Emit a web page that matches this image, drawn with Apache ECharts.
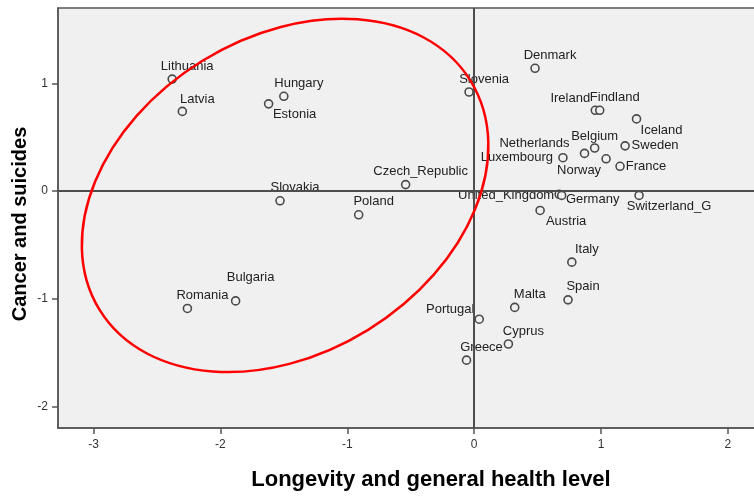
<!DOCTYPE html>
<html>
<head>
<meta charset="utf-8">
<script src="https://cdn.jsdelivr.net/npm/echarts@6/dist/echarts.min.js"></script>
<style>
  html, body { margin: 0; padding: 0; background: #fff; }
  #main { width: 754px; height: 497px; }
</style>
</head>
<body>
<div id="main"></div>
<script>
// countries and their two factor scores
var countries = [
  "Lithuania", "Latvia", "Hungary", "Estonia", "Denmark", "Slovenia",
  "Ireland", "Findland", "Iceland", "Belgium", "Sweden", "Luxembourg",
  "Netherlands", "Norway", "France", "United_Kingdom", "Germany", "Switzerland_G",
  "Austria", "Slovakia", "Czech_Republic", "Poland", "Bulgaria", "Romania",
  "Italy", "Spain", "Malta", "Portugal", "Cyprus", "Greece"
];
var longevity = [
  -2.38, -2.30, -1.50, -1.62, 0.48, -0.04,
  0.955, 0.99, 1.28, 0.95, 1.19, 0.70,
  0.87, 1.04, 1.15, 0.67, 0.69, 1.30,
  0.52, -1.53, -0.54, -0.91, -1.88, -2.26,
  0.77, 0.74, 0.32, 0.04, 0.27, -0.06
];
var cancer = [
  1.04, 0.74, 0.88, 0.81, 1.14, 0.92,
  0.75, 0.75, 0.67, 0.40, 0.42, 0.31,
  0.35, 0.30, 0.23, -0.03, -0.04, -0.04,
  -0.18, -0.09, 0.06, -0.22, -1.02, -1.09,
  -0.66, -1.01, -1.08, -1.19, -1.42, -1.57
];
var xTickLabels = ["-3", "-2", "-1", "0", "1", "2"];
var yTickLabels = ["-2", "-1", "0", "1"];

// label placement (pixel offsets from the point)
var labelOffsets = {
  Estonia: [26, 11], Ireland: [-25, -12], Iceland: [25, 11], Belgium: [0, -12],
  Sweden: [30, 0], Netherlands: [-50, -10], Luxembourg: [-46, 0], Norway: [-27, 12],
  France: [26, 0], United_Kingdom: [-53, 1], Germany: [31, 4], Switzerland_G: [30, 11],
  Austria: [26, 11], Bulgaria: [15, -24], Portugal: [-29, -10], Latvia: [15, -12]
};

// highlighted group ellipse (center in data units, radii in px)
var ellipseCenter = [-1.49, -0.04];

var chart = echarts.init(document.getElementById("main"));

var points = countries.map(function (c, i) {
  return { name: c, value: [longevity[i], cancer[i]] };
});

var font = "Liberation Sans";

chart.setOption({
  backgroundColor: "#fff",
  animation: false,
  grid: {
    left: 58,
    top: 8,
    right: -50,
    bottom: 69,
    outerBoundsMode: "none",
    containLabel: false,
    show: true,
    backgroundColor: "#f0f0f0",
    borderColor: "#555",
    borderWidth: 1.5
  },
  xAxis: {
    type: "value",
    min: -3.28,
    max: 2.6,
    minInterval: 1,
    maxInterval: 1,
    name: "Longevity and general health level",
    nameLocation: "middle",
    nameGap: 41,
    nameTextStyle: { fontFamily: font, fontSize: 22, fontWeight: "bold", color: "#000" },
    axisLine: { onZero: false, lineStyle: { color: "#555", width: 1.5 } },
    axisTick: { length: 6, lineStyle: { color: "#555", width: 1.5 } },
    axisLabel: {
      showMinLabel: false, showMaxLabel: false, margin: 11,
      fontFamily: font, fontSize: 12, color: "#333",
      formatter: function (v) { return xTickLabels.indexOf(String(v)) >= 0 ? String(v) : ""; }
    },
    splitLine: { show: false }
  },
  yAxis: {
    type: "value",
    min: -2.2,
    max: 1.7,
    minInterval: 1,
    maxInterval: 1,
    name: "Cancer and suicides",
    nameLocation: "middle",
    nameGap: 28,
    nameMoveOverlap: false,
    nameTextStyle: {
      fontFamily: font, fontSize: 20, fontWeight: "bold", color: "#000",
      padding: [0, 12, 0, 0]
    },
    axisLine: { onZero: false, lineStyle: { color: "#555", width: 1.5 } },
    axisTick: { length: 6, lineStyle: { color: "#555", width: 1.5 } },
    axisLabel: {
      showMinLabel: false, showMaxLabel: false, margin: 10,
      fontFamily: font, fontSize: 12, color: "#333",
      formatter: function (v) { return yTickLabels.indexOf(String(v)) >= 0 ? String(v) : ""; }
    },
    splitLine: { show: false }
  },
  series: [
    {
      type: "scatter",
      data: points,
      symbol: "circle",
      symbolSize: 8,
      itemStyle: { color: "#f0f0f0", borderColor: "#4a4a4a", borderWidth: 1.6, opacity: 1 },
      label: {
        show: true,
        position: "inside",
        formatter: "{b}",
        fontFamily: font,
        fontSize: 13,
        color: "#222"
      },
      labelLayout: function (p) {
        var off = labelOffsets[countries[p.dataIndex]] || [15, -13];
        return { dx: off[0], dy: off[1], hideOverlap: false };
      },
      markLine: {
        silent: true,
        symbol: "none",
        label: { show: false },
        lineStyle: { color: "#4d4d4d", width: 2, type: "solid" },
        data: [{ xAxis: 0 }, { yAxis: 0 }]
      }
    }
  ]
});

var c = chart.convertToPixel({ gridIndex: 0 }, ellipseCenter);
chart.setOption({
  graphic: [{
    type: "ellipse",
    x: c[0],
    y: c[1],
    rotation: 31.7 * Math.PI / 180,
    shape: { cx: 0, cy: 0, rx: 218, ry: 158 },
    style: { fill: null, stroke: "#ff0000", lineWidth: 2.5 },
    silent: true,
    z: 100
  }]
});
</script>
</body>
</html>
